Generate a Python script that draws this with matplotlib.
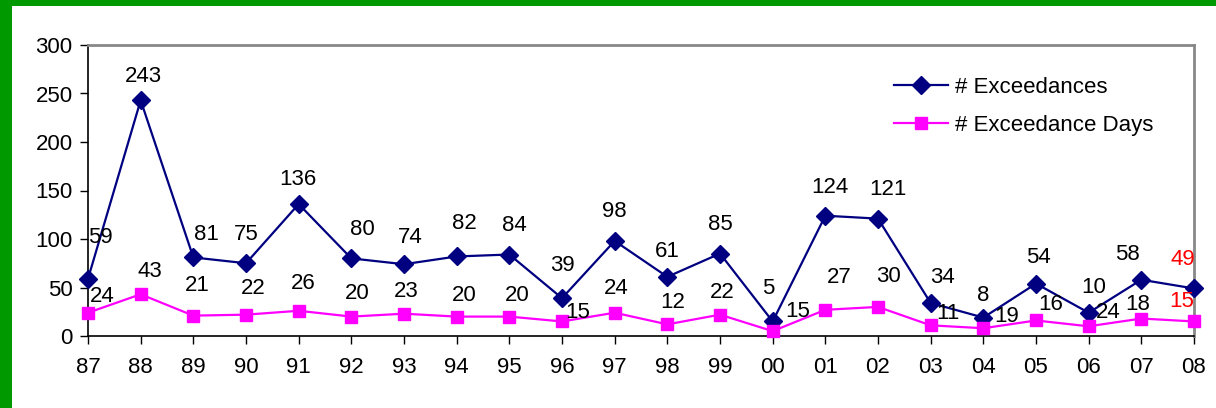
import matplotlib.pyplot as plt
from matplotlib.patches import Rectangle

years = ["87", "88", "89", "90", "91", "92", "93", "94", "95", "96", "97",
         "98", "99", "00", "01", "02", "03", "04", "05", "06", "07", "08"]
exceedances = [59, 243, 81, 75, 136, 80, 74, 82, 84, 39, 98,
               61, 85, 15, 124, 121, 34, 19, 54, 24, 58, 49]
exceed_days = [24, 43, 21, 22, 26, 20, 23, 20, 20, 15, 24,
               12, 22, 5, 27, 30, 11, 8, 16, 10, 18, 15]

# label offsets (pixels) copied from the hand-placed labels of the original
blue_off = [(12, 41), (3, 24), (13, 23), (0, 29), (-1, 25), (11, 29), (6, 27),
            (8, 33), (5, 29), (0, 33), (0, 29), (0, 25), (0, 29), (25, 10),
            (5, 28), (10, 29), (12, 26), (23, 1), (2, 26), (20, 0), (-14, 25),
            (-11, 29)]
pink_off = [(14, 16), (9, 23), (4, 30), (7, 26), (5, 27), (6, 23), (2, 22),
            (8, 21), (8, 21), (16, 9), (2, 24), (5, 22), (2, 22), (-4, 43),
            (14, 32), (10, 30), (17, 12), (0, 33), (15, 16), (5, 39), (-4, 14),
            (-12, 20)]

plt.rcParams["font.family"] = ["Liberation Sans", "DejaVu Sans"]
fs = 16

fig = plt.figure(figsize=(12.16, 4.08), dpi=100)
fig.add_artist(Rectangle((0, 0), 12 / 1216, 1, transform=fig.transFigure,
                         color="#009900", lw=0))
fig.add_artist(Rectangle((0, 1 - 6 / 408), 1, 6 / 408, transform=fig.transFigure,
                         color="#009900", lw=0))

ax = fig.add_axes([88 / 1216, 72 / 408, (1194 - 88) / 1216, (336 - 45) / 408])
x = list(range(len(years)))

ax.plot(x, exceedances, color="#000080", marker="D", markersize=9, lw=1.6,
        label="# Exceedances", clip_on=False, zorder=3)
ax.plot(x, exceed_days, color="#FF00FF", marker="s", markersize=8.5, lw=1.6,
        label="# Exceedance Days", clip_on=False, zorder=3)

last = len(years) - 1
for i in x:
    col = "red" if i == last else "black"
    ax.annotate(str(exceedances[i]), (i, exceedances[i]), xytext=blue_off[i],
                textcoords="offset pixels", ha="center", va="center",
                fontsize=fs, color=col)
    ax.annotate(str(exceed_days[i]), (i, exceed_days[i]), xytext=pink_off[i],
                textcoords="offset pixels", ha="center", va="center",
                fontsize=fs, color=col)

ax.set_xlim(0, last)
ax.set_ylim(0, 300)
ax.set_yticks(range(0, 301, 50))
ax.set_xticks(x)
ax.set_xticklabels(years)
ax.tick_params(labelsize=fs, direction="out", length=6, width=1)
ax.tick_params(axis="x", pad=9)
ax.tick_params(axis="y", pad=5)
for s in ["top", "right"]:
    ax.spines[s].set_color("#888888")
    ax.spines[s].set_linewidth(2)
for s in ["left", "bottom"]:
    ax.spines[s].set_linewidth(1.2)

ax.legend(loc="upper left", bbox_to_anchor=(0.729, 0.89), frameon=False,
          fontsize=fs, handlelength=2.4, labelspacing=0.75, handletextpad=0.35,
          borderpad=0, borderaxespad=0)

fig.savefig("out.png", dpi=100)
